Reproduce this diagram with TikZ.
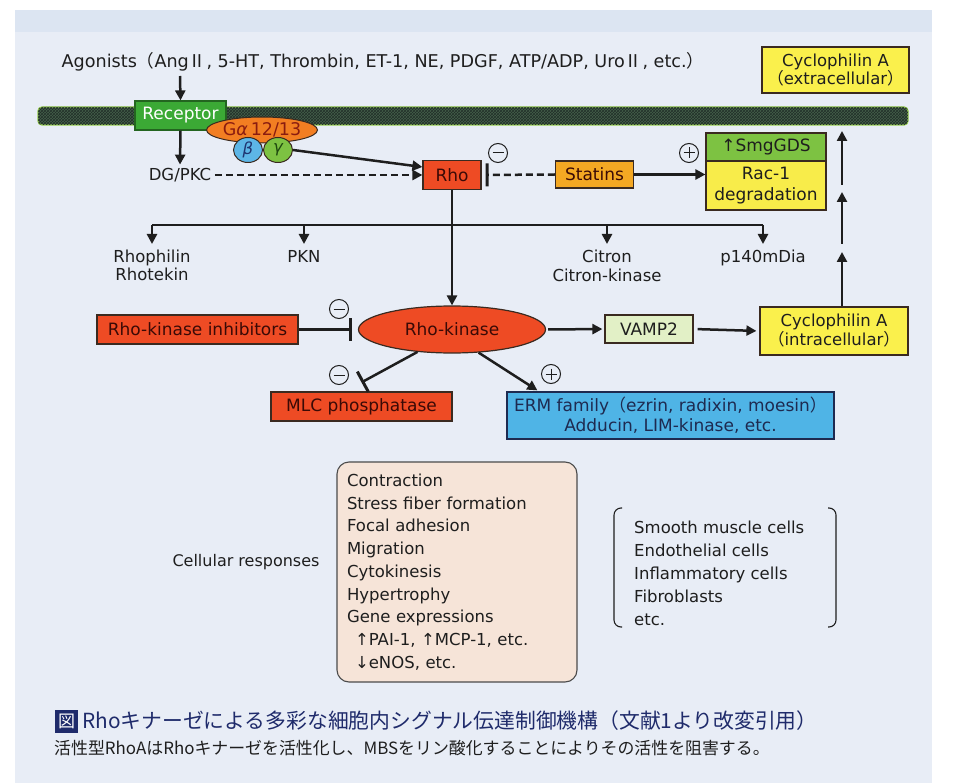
\documentclass[tikz,border=0pt]{standalone}
\usepackage{fontspec}
\setmainfont{DejaVu Sans}
\newfontfamily\cjk{Noto Sans CJK JP}
\usetikzlibrary{arrows.meta,shapes.geometric,patterns,calc}
\definecolor{bgblue}{HTML}{E8EDF6}
\definecolor{bgtop}{HTML}{DCE5F2}
\definecolor{txt}{HTML}{1E1E1E}
\definecolor{boxline}{HTML}{3A2A20}
\definecolor{recgreen}{HTML}{3BA935}
\definecolor{gorange}{HTML}{F27E22}
\definecolor{gtext}{HTML}{8A1C10}
\definecolor{betablue}{HTML}{5DB6E6}
\definecolor{betatext}{HTML}{1F3570}
\definecolor{gamgreen}{HTML}{7DC242}
\definecolor{gamtext}{HTML}{1F4A10}
\definecolor{rhored}{HTML}{EE4B24}
\definecolor{rhotext}{HTML}{3A0A06}
\definecolor{statorange}{HTML}{F4A823}
\definecolor{smggreen}{HTML}{7DC242}
\definecolor{racyellow}{HTML}{F8EC4A}
\definecolor{cycyellow}{HTML}{FAF04C}
\definecolor{vampgreen}{HTML}{E2F0C6}
\definecolor{ermblue}{HTML}{4FB4E6}
\definecolor{ermline}{HTML}{1E2A50}
\definecolor{peach}{HTML}{F6E4D8}
\definecolor{navy}{HTML}{1F2B6B}
\definecolor{membdark}{HTML}{44604A}
\definecolor{membhatch}{HTML}{22302A}
\definecolor{membedge}{HTML}{93CB4A}
\begin{document}
\begin{tikzpicture}[x=1pt,y=-1pt,
  every node/.style={font=\fontsize{16.5}{19}\selectfont, text=txt},
  box/.style={draw=boxline, line width=1.2pt, inner sep=0pt, align=center, font=\fontsize{17}{20}\selectfont},
  lbl/.style={align=center, inner sep=4pt},
  arr/.style={draw=txt, line width=2.5pt, -{Triangle[length=10pt,width=10pt]}},
  inh/.style={draw=txt, line width=2.5pt, -{Bar[width=23pt,line width=3pt]}},
  dsh/.style={dash pattern=on 7pt off 4pt},
  pm/.style={circle, draw=txt, line width=1pt, minimum size=19pt, inner sep=0pt},
  minus/.style={pm, path picture={\draw[line width=1pt] ([xshift=4pt]path picture bounding box.west) -- ([xshift=-4pt]path picture bounding box.east);}},
  plus/.style={pm, path picture={\draw[line width=1pt] ([xshift=4pt]path picture bounding box.west) -- ([xshift=-4pt]path picture bounding box.east);
     \draw[line width=1pt] ([yshift=-4pt]path picture bounding box.north) -- ([yshift=4pt]path picture bounding box.south);}},
  bracket/.style={draw=txt, line width=1.1pt, rounded corners=7pt}
]
\useasboundingbox (0,0) rectangle (957,783);
\fill[white] (0,0) rectangle (957,783);
\fill[bgblue] (15,10) rectangle (932,783);
\fill[bgtop] (15,10) rectangle (932,32);

% top text
\node[font=\fontsize{17.6}{20}\selectfont] (agon) at (383,62) {Agonists{\cjk （}Ang{\cjk Ⅱ}, 5-HT, Thrombin, ET-1, NE, PDGF, ATP/ADP, Uro{\cjk Ⅱ}, etc.{\cjk ）}};
\node[box, fill=cycyellow, minimum width=147pt, minimum height=46pt, font=\fontsize{16.5}{18}\selectfont] (cycex) at (835.5,70) {Cyclophilin A\\{\cjk （}extracellular{\cjk ）}};

% membrane
\node[draw=membedge, line width=1.3pt, fill=membdark, rounded corners=4pt, minimum width=870pt, minimum height=18pt, inner sep=0pt,
  postaction={pattern=crosshatch, pattern color=membhatch}] (memb) at (473,116) {};

% receptor and G protein
\node[box, fill=recgreen, text=white, minimum width=91pt, minimum height=29pt, draw=recgreen!60!black] (rec) at (180.5,115.5) {Receptor};
\node[ellipse, draw=boxline, line width=1pt, fill=gorange, minimum width=100pt, minimum height=26pt, inner sep=0pt, text=gtext, font=\fontsize{17.5}{20}\selectfont] (ga) at (262,130) {G{\itshape α}\,12/13};
\node[ellipse, draw=boxline, line width=1pt, fill=betablue, minimum width=29pt, minimum height=25pt, inner sep=0pt, text=betatext] (beta) at (248,150) {\itshape β};
\node[ellipse, draw=boxline, line width=1pt, fill=gamgreen, minimum width=29pt, minimum height=25pt, inner sep=0pt, text=gamtext] (gam) at (278,150) {\itshape γ};

\coordinate (ag1) at (180,76);
\draw[arr] (ag1) -- (rec.north);

\node (dg) at (180,175) {DG/PKC};
\draw[arr] (rec.south) -- (dg.north);

% Rho row
\node[box, fill=rhored, text=rhotext, minimum width=58pt, minimum height=29pt] (rho) at (452,175) {Rho};
\node[box, fill=statorange, text=rhotext, minimum width=78pt, minimum height=27pt] (stat) at (594.5,174.5) {Statins};
\node[box, fill=smggreen, minimum width=120pt, minimum height=28pt] (smg) at (766,147) {↑SmgGDS};
\node[box, fill=racyellow, minimum width=120pt, minimum height=49pt, font=\fontsize{17}{21}\selectfont] (rac) at (766,185.5) {Rac-1\\degradation};

\draw[arr] (gam.east) -- ([yshift=8pt]rho.west);
\draw[arr, dsh] (dg.east) -- (rho.west);
\draw[inh, dsh, shorten >=4pt] (stat.west) -- (rho.east);
\draw[arr] (stat.east) -- (stat.east -| rac.west);

\node[minus] (m1) at (498,153) {};
\node[plus] (p1) at (689,153) {};

% effector row
\coordinate (hl) at (152,225);
\coordinate (hr) at (763,225);
\draw[draw=txt, line width=2.5pt] (hl) -- (hr);
\node[lbl, anchor=north, font=\fontsize{16.5}{18}\selectfont] (rhoph) at (152,246) {Rhophilin\\Rhotekin};
\node[lbl, anchor=north] (pkn) at (304,246) {PKN};
\node[lbl, anchor=north, font=\fontsize{16.5}{19}\selectfont] (citron) at (607,246) {Citron\\Citron-kinase};
\node[lbl, anchor=north] (p140) at (763,246) {p140mDia};
\draw[arr, shorten >=2pt] (hl) -- (rhoph.north);
\draw[arr, shorten >=2pt] (pkn.north |- hl) -- (pkn.north);
\draw[arr, shorten >=2pt] (citron.north |- hl) -- (citron.north);
\draw[arr, shorten >=2pt] (hr) -- (p140.north);

% Rho-kinase row
\node[ellipse, draw=boxline, line width=1.2pt, fill=rhored, minimum width=187pt, minimum height=47pt, inner sep=0pt, text=rhotext, font=\fontsize{17}{20}\selectfont] (rk) at (452,329.5) {Rho-kinase};
\draw[arr] (rho.south) -- (rk.north);
\node[box, fill=rhored, text=rhotext, minimum width=201pt, minimum height=29pt] (rki) at (197.5,329.5) {Rho-kinase inhibitors};
\node[box, fill=vampgreen, minimum width=88pt, minimum height=28pt] (vamp) at (649,329) {VAMP2};
\node[box, fill=cycyellow, minimum width=148pt, minimum height=48pt, font=\fontsize{16.5}{19}\selectfont] (cycin) at (834,331) {Cyclophilin A\\{\cjk （}intracellular{\cjk ）}};
\draw[inh, shorten >=6pt] (rki.east) -- (rk.west);
\draw[arr, shorten <=2pt, shorten >=2pt] (rk.east) -- (vamp.west);
\draw[arr, shorten <=4pt, shorten >=3pt] (vamp.east) -- (cycin.west);
\node[minus] (m2) at (339,309) {};

% upward arrows on the right
\coordinate (u0) at ([xshift=8pt]cycin.north);
\coordinate (u1) at (842,252);
\coordinate (u2) at (842,244);
\coordinate (u3) at (842,192);
\coordinate (u4) at (842,185);
\coordinate (u5) at (842,131);
\draw[arr] (u0) -- (u1);
\draw[arr] (u2) -- (u3);
\draw[arr] (u4) -- (u5);

% MLC and ERM
\node[box, fill=rhored, text=rhotext, minimum width=181pt, minimum height=29pt] (mlc) at (361.5,406.5) {MLC phosphatase};
\node[box, fill=ermblue, draw=ermline, minimum width=327pt, minimum height=47pt, text=ermline, font=\fontsize{17}{20}\selectfont] (erm) at (670.5,415.5) {ERM family{\cjk （}ezrin, radixin, moesin{\cjk ）}\\Adducin, LIM-kinase, etc.};
\draw[inh] (rk.213) -- ([yshift=9pt]mlc.north);
\draw[arr] (rk.319) -- ([xshift=31pt,yshift=1pt]erm.north west);
\node[minus] (m3) at (339,375) {};
\node[plus] (p2) at (551,374) {};

% cellular responses
\node[font=\fontsize{16}{19}\selectfont] (cr) at (246,562) {Cellular responses};
\node[draw=txt!80, line width=1.1pt, fill=peach, rounded corners=12pt, minimum width=240pt, minimum height=220pt, text width=220pt, inner xsep=10pt, align=left, font=\fontsize{16.5}{22.7}\selectfont] (resp) at (457,572)
 {Contraction\\Stress fiber formation\\Focal adhesion\\Migration\\Cytokinesis\\Hypertrophy\\Gene expressions\\\hspace*{8pt}↑PAI-1, ↑MCP-1, etc.\\\hspace*{8pt}↓eNOS, etc.};

\node[anchor=west, align=left, inner sep=0pt, font=\fontsize{16.5}{23}\selectfont] (cells) at (634,573) {Smooth muscle cells\\Endothelial cells\\Inflammatory cells\\Fibroblasts\\etc.};
\draw[bracket] (622,508) -- (614,508) -- (614,627) -- (622,627);
\draw[bracket] (828,508) -- (836,508) -- (836,627) -- (828,627);

% caption
\node[fill=navy, text=white, minimum size=23pt, inner sep=0pt, font=\cjk\fontsize{17}{17}\selectfont] (zu) at (66.5,721.5) {図};
\node[anchor=west, inner sep=0pt, text=navy, font=\cjk\fontsize{20.8}{22}\selectfont] (cap1) at (82,721) {Rhoキナーゼによる多彩な細胞内シグナル伝達制御機構（文献1より改変引用）};
\node[anchor=west, inner sep=0pt, font=\cjk\fontsize{16.9}{18}\selectfont] (cap2) at (54,748) {活性型RhoAはRhoキナーゼを活性化し、MBSをリン酸化することによりその活性を阻害する。};
\end{tikzpicture}
\end{document}
